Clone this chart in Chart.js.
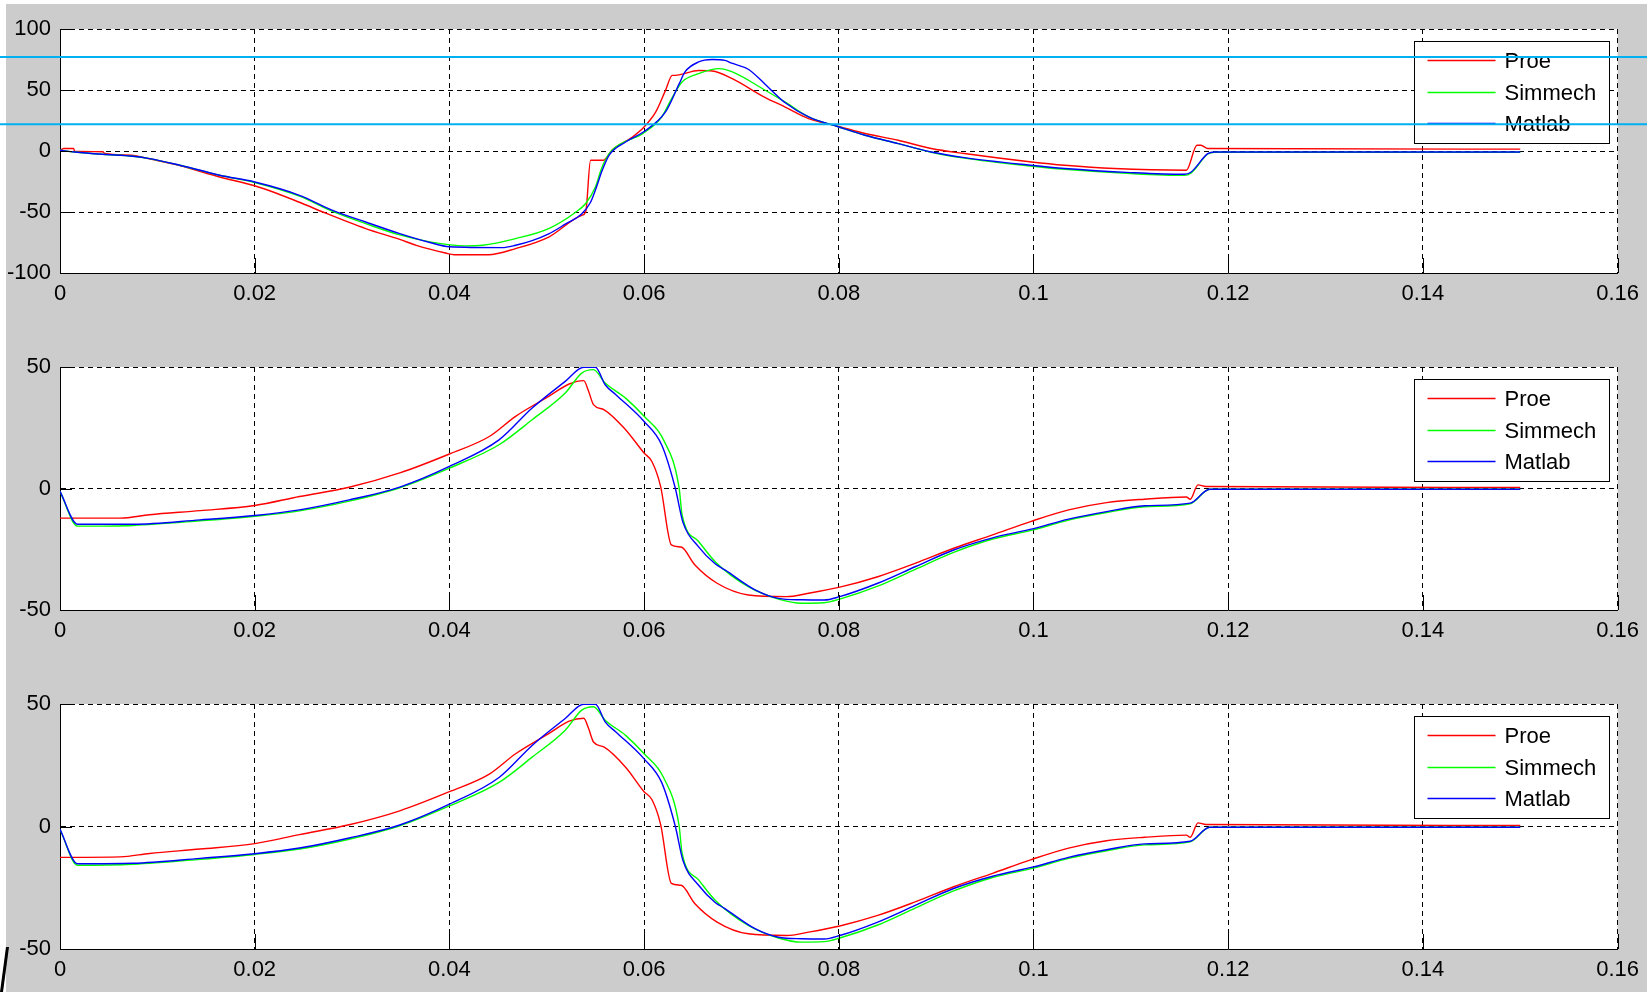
<!DOCTYPE html>
<html>
<head>
<meta charset="utf-8">
<script src="https://cdn.jsdelivr.net/npm/chart.js@4.4.1/dist/chart.umd.min.js"></script>
<style>
html,body{margin:0;padding:0;background:#cccccc;width:1647px;height:992px;overflow:hidden;position:relative}
canvas{position:absolute;left:0}
#wt{position:absolute;left:0;top:0;width:1647px;height:4px;background:#fff}
#wl{position:absolute;left:0;top:0;width:6px;height:992px;background:#fff}
#mk{position:absolute;left:0;top:940px}
</style>
</head>
<body>
<div id="wt"></div><div id="wl"></div>
<svg id="mk" width="12" height="52"><polygon points="6,7 9,7 3,52 0,52" fill="#000"/></svg>
<canvas id="c1" width="1647" height="330" style="top:0px"></canvas>
<canvas id="c2" width="1647" height="330" style="top:330px"></canvas>
<canvas id="c3" width="1647" height="332" style="top:660px"></canvas>
<script>
// ---------- axis ticks ----------
const xTicks = [0, 0.02, 0.04, 0.06, 0.08, 0.1, 0.12, 0.14, 0.16];
const xTickLabels = ['0', '0.02', '0.04', '0.06', '0.08', '0.1', '0.12', '0.14', '0.16'];
const y1Ticks = [-100, -50, 0, 50, 100];
const y1TickLabels = ['-100', '-50', '0', '50', '100'];
const y23Ticks = [-50, 0, 50];
const y23TickLabels = ['-50', '0', '50'];

// ---------- series ----------
const seriesNames = ['Proe', 'Simmech', 'Matlab'];
const seriesColors = ['#ff0000', '#00ff00', '#0000ff'];

// plot 1
const p1ProeT = [0, 0.0004, 0.0014, 0.0015, 0.0044, 0.0046, 0.0073, 0.0092, 0.0123, 0.0164, 0.02, 0.0246, 0.027, 0.0314, 0.0349, 0.0366, 0.0396, 0.0405, 0.044, 0.0468, 0.0502, 0.0536, 0.054, 0.0545, 0.0558, 0.0567, 0.0588, 0.06, 0.0612, 0.0622, 0.0629, 0.0632, 0.0656, 0.067, 0.069, 0.0724, 0.0745, 0.0769, 0.08, 0.0827, 0.0861, 0.0895, 0.0929, 0.0998, 0.1032, 0.1083, 0.1157, 0.1168, 0.1172, 0.1179, 0.15];
const p1ProeV = [0.6, 2, 2, -0.2, -0.6, -2.1, -3.5, -6.4, -12, -21.3, -28.5, -42, -50, -63.6, -72.5, -77.3, -83.6, -85, -85, -80, -70.5, -52.7, -50, -7.6, -7.6, 0.6, 11.5, 19.7, 32, 49.7, 62, 62, 66, 65.6, 59.5, 44, 36, 26.6, 20.2, 14.3, 8.8, 2, -2.1, -9, -11.7, -14.4, -15.8, 4.7, 4.7, 2, 1.5];
const p1SimT = [0, 0.0015, 0.0044, 0.0075, 0.0092, 0.0123, 0.0164, 0.02, 0.0246, 0.028, 0.0314, 0.0349, 0.038, 0.0416, 0.0434, 0.0468, 0.0502, 0.053, 0.054, 0.055, 0.0556, 0.056, 0.0567, 0.06, 0.0618, 0.0629, 0.0639, 0.0656, 0.0677, 0.069, 0.0724, 0.0745, 0.0769, 0.08, 0.0827, 0.0861, 0.0895, 0.0929, 0.0997, 0.1032, 0.11, 0.1155, 0.1162, 0.1179, 0.1186, 0.15];
const p1SimV = [0.6, -0.8, -2.7, -4.3, -6.2, -11.7, -19.9, -25.8, -37, -49.5, -59.5, -68.8, -74.5, -77.8, -77.3, -71.8, -63.6, -50, -43, -29.5, -15, -7.6, 0.6, 15, 27.9, 44, 56.6, 63.4, 67.5, 65, 50, 40, 27.9, 19.7, 12.9, 6.1, -1, -5.8, -12.3, -15, -18.5, -20, -18, -2.5, -1, -1];
const p1MatT = [0, 0.0015, 0.0044, 0.0075, 0.0092, 0.0123, 0.0144, 0.0164, 0.02, 0.0246, 0.028, 0.0314, 0.0349, 0.038, 0.04, 0.0454, 0.0468, 0.0485, 0.0502, 0.0519, 0.0536, 0.0545, 0.055, 0.0557, 0.0564, 0.0581, 0.06, 0.0622, 0.0636, 0.0642, 0.0656, 0.067, 0.0683, 0.069, 0.0707, 0.0724, 0.0745, 0.0769, 0.08, 0.0827, 0.0861, 0.0895, 0.0929, 0.0997, 0.1032, 0.11, 0.1155, 0.1162, 0.1179, 0.1186, 0.15];
const p1MatV = [0.6, -0.8, -2.7, -4.3, -6.2, -11.7, -15.8, -19.9, -25.4, -36.3, -48.6, -58.2, -67.7, -75, -78.5, -79.2, -77.3, -73.5, -68, -60, -51.5, -42, -32, -15.8, -3.5, 7.4, 16, 32, 55, 64.8, 73, 75, 74.3, 72, 67, 55, 39.5, 27.9, 19.7, 12.9, 6.1, -0.8, -5.4, -11.7, -14.4, -17.7, -19.1, -17.2, -2.2, -0.8, -0.8];

// plot 2
const p2ProeT = [0, 0.0062, 0.0092, 0.0144, 0.02, 0.0246, 0.0297, 0.0349, 0.04, 0.0441, 0.0468, 0.0502, 0.0523, 0.0538, 0.0543, 0.0548, 0.0559, 0.0581, 0.06, 0.0608, 0.0617, 0.0628, 0.0638, 0.0652, 0.0675, 0.0707, 0.0746, 0.0769, 0.0801, 0.084, 0.0879, 0.0918, 0.0958, 0.0997, 0.1036, 0.1075, 0.1114, 0.1157, 0.1161, 0.1169, 0.1177, 0.15];
const p2ProeV = [-12.2, -12.2, -10.8, -9.1, -7, -3.3, 0.5, 6.4, 14.2, 21.4, 29.7, 37.9, 43, 44.4, 40, 34.5, 32.4, 24.2, 14.6, 11.1, 0.8, -23.2, -24.1, -31.4, -39, -43.8, -44.5, -43.1, -40.6, -36.3, -30.7, -24.6, -19.1, -13.6, -8.8, -5.8, -4.4, -3.5, -4.4, 1.5, 0.8, 0.4];
const p2SimT = [0, 0.0018, 0.0075, 0.0144, 0.02, 0.0246, 0.0297, 0.0349, 0.04, 0.0451, 0.0485, 0.0519, 0.0536, 0.0548, 0.056, 0.0581, 0.06, 0.062, 0.0636, 0.0639, 0.0656, 0.0673, 0.0707, 0.0738, 0.0762, 0.0785, 0.0801, 0.084, 0.0879, 0.0918, 0.0958, 0.1, 0.1036, 0.1075, 0.1114, 0.1161, 0.1181, 0.15];
const p2SimV = [-1.2, -15.5, -15.2, -13.3, -11.4, -9.2, -5.2, 0.3, 8.4, 18, 28.3, 39.3, 47.5, 48.9, 43.4, 37.2, 29.7, 20, 0.2, -10.8, -21.8, -30.1, -40.4, -45.5, -47.2, -47, -45.5, -40.2, -33.2, -26.3, -20.8, -17, -13, -9.9, -7.5, -6.3, -0.3, -0.3];
const p2MatT = [0, 0.0018, 0.0075, 0.0144, 0.02, 0.0246, 0.0297, 0.0349, 0.04, 0.0451, 0.0485, 0.0519, 0.0538, 0.055, 0.056, 0.0571, 0.06, 0.0618, 0.0632, 0.064, 0.0656, 0.0673, 0.0683, 0.0714, 0.0738, 0.0762, 0.0785, 0.0801, 0.084, 0.0879, 0.0918, 0.0958, 0.1, 0.1036, 0.1075, 0.1114, 0.1161, 0.1181, 0.15];
const p2MatV = [-1.2, -14.7, -14.7, -12.9, -11.1, -8.8, -4.7, 0.6, 9.1, 20, 33.1, 44.1, 49.9, 49.9, 42.7, 38.6, 27.6, 18, 0.2, -14, -24, -31, -33.5, -41.7, -45.2, -45.8, -45.9, -44.5, -39, -32.1, -25.3, -20.3, -16.5, -12.6, -9.5, -7.1, -6, -0.3, -0.3];

// plot 3
const p3ProeT = [0, 0.0062, 0.0092, 0.0144, 0.02, 0.0246, 0.0297, 0.0349, 0.04, 0.0441, 0.0468, 0.0502, 0.0523, 0.0538, 0.0543, 0.0548, 0.0559, 0.0581, 0.06, 0.0608, 0.0617, 0.0628, 0.0638, 0.0652, 0.0675, 0.0707, 0.0746, 0.0769, 0.0801, 0.084, 0.0879, 0.0918, 0.0958, 0.0997, 0.1036, 0.1075, 0.1114, 0.1157, 0.1161, 0.1169, 0.1177, 0.15];
const p3ProeV = [-12.6, -12.4, -11, -9.2, -7, -3.3, 0.7, 6.4, 14.2, 21.4, 29.7, 37.9, 43, 44.2, 40, 34.5, 32.4, 24.2, 14.2, 11, 0.8, -23.2, -24, -31.4, -39, -43.8, -44.5, -43.1, -40.6, -36.3, -30.7, -24.6, -19.1, -13.6, -8.8, -5.8, -4.4, -3.5, -4.4, 1.5, 0.8, 0.4];
const p3SimT = [0, 0.0018, 0.0075, 0.0144, 0.02, 0.0246, 0.0297, 0.0349, 0.04, 0.0451, 0.0485, 0.0519, 0.0536, 0.0548, 0.056, 0.0581, 0.06, 0.062, 0.0636, 0.0639, 0.0656, 0.0673, 0.0707, 0.0738, 0.0762, 0.0785, 0.0801, 0.084, 0.0879, 0.0918, 0.0958, 0.1, 0.1036, 0.1075, 0.1114, 0.1161, 0.1181, 0.15];
const p3SimV = [-1.2, -15.8, -15.4, -13.4, -11.4, -9.2, -5.2, 0.3, 8.4, 18, 28.3, 39.3, 47.5, 48.9, 43.4, 37.2, 29.7, 20, 0.2, -10.8, -21.8, -30.1, -40.4, -45.5, -47.2, -47, -45.5, -40.2, -33.2, -26.3, -20.8, -17, -13, -9.9, -7.5, -6.3, -0.3, -0.3];
const p3MatT = [0, 0.0018, 0.0075, 0.0144, 0.02, 0.0246, 0.0297, 0.0349, 0.04, 0.0451, 0.0485, 0.0519, 0.0538, 0.055, 0.056, 0.0571, 0.06, 0.0618, 0.0632, 0.064, 0.0656, 0.0673, 0.0683, 0.0714, 0.0738, 0.0762, 0.0785, 0.0801, 0.084, 0.0879, 0.0918, 0.0958, 0.1, 0.1036, 0.1075, 0.1114, 0.1161, 0.1181, 0.15];
const p3MatV = [-1.2, -15.2, -15, -13, -11.1, -8.8, -4.7, 0.6, 9.1, 20, 33.1, 44.1, 49.9, 49.9, 42.7, 38.6, 27.6, 18, 0.2, -14, -24, -31, -33.5, -41.7, -45.2, -45.8, -45.9, -44.5, -39, -32.1, -25.3, -20.3, -16.5, -12.6, -9.5, -7.1, -6, -0.3, -0.3];

// light-blue horizontal marker lines across the top panel (values on its y axis)
const refLineValues = [77, 22];

const FONT = "'Liberation Sans', Arial, sans-serif";

// ---------- plugins ----------
const whiteArea = {
  id: 'whiteArea',
  beforeDraw(chart) {
    const a = chart.chartArea, ctx = chart.ctx;
    ctx.save(); ctx.fillStyle = '#ffffff';
    ctx.fillRect(a.left, a.top, a.right - a.left, a.bottom - a.top);
    ctx.restore();
  }
};
const inwardTicks = {
  id: 'inwardTicks',
  afterDatasetsDraw(chart) {
    const {ctx, chartArea: a, scales: {x, y}} = chart;
    ctx.save(); ctx.strokeStyle = '#000'; ctx.lineWidth = 1; ctx.beginPath();
    x.ticks.forEach(t => { const px = Math.round(x.getPixelForValue(t.value)) + 0.5; ctx.moveTo(px, a.bottom); ctx.lineTo(px, a.bottom - 15); });
    y.ticks.forEach(t => { const py = Math.round(y.getPixelForValue(t.value)) + 0.5; ctx.moveTo(a.left, py); ctx.lineTo(a.left + 12, py); });
    ctx.stroke(); ctx.restore();
  }
};
const boxLegend = {
  id: 'boxLegend',
  afterDraw(chart) {
    const a = chart.chartArea, ctx = chart.ctx;
    const bw = 195, bh = 102;
    const bx = Math.round(a.right - 204) + 0.5, by = Math.round(a.top + 12) + 0.5;
    const rows = [18.5, 50.5, 81.5];
    ctx.save();
    ctx.fillStyle = '#fff'; ctx.fillRect(bx, by, bw, bh);
    ctx.strokeStyle = '#000'; ctx.lineWidth = 1; ctx.strokeRect(bx, by, bw, bh);
    ctx.font = '22px ' + FONT; ctx.textBaseline = 'middle'; ctx.textAlign = 'left';
    seriesNames.forEach((n, i) => {
      const yy = Math.round(by + rows[i]) + 0.5;
      ctx.strokeStyle = seriesColors[i]; ctx.lineWidth = 1.4;
      ctx.beginPath(); ctx.moveTo(bx + 13, yy); ctx.lineTo(bx + 81, yy); ctx.stroke();
      ctx.fillStyle = '#000'; ctx.fillText(n, bx + 90, yy + 1);
    });
    ctx.restore();
  }
};
const refLines = {
  id: 'refLines',
  afterDraw(chart) {
    const y = chart.scales.y, ctx = chart.ctx;
    ctx.save(); ctx.strokeStyle = '#00b0f0'; ctx.lineWidth = 2;
    refLineValues.forEach(v => {
      const py = y.getPixelForValue(v);
      ctx.beginPath(); ctx.moveTo(0, py); ctx.lineTo(chart.width, py); ctx.stroke();
    });
    ctx.restore();
  }
};

function buildChart(id, padTop, axisH, yMin, yMax, yTicks, yLabels, series, extra) {
  const datasets = series.map((s, i) => ({
    label: seriesNames[i],
    data: s[0].map((t, j) => ({x: t, y: s[1][j]})),
    borderColor: seriesColors[i],
    borderWidth: 1.4,
    pointRadius: 0,
    cubicInterpolationMode: 'monotone',
    fill: false,
    order: 2 - i
  }));
  return new Chart(document.getElementById(id), {
    type: 'line',
    data: {datasets},
    options: {
      responsive: false, animation: false, devicePixelRatio: 1, events: [],
      layout: {padding: {top: padTop, right: 26, left: 0, bottom: 0}},
      plugins: {legend: {display: false}, tooltip: {enabled: false}},
      scales: {
        x: {
          type: 'linear', min: 0, max: 0.16,
          afterBuildTicks: s => { s.ticks = xTicks.map(v => ({value: v})); },
          afterFit: s => { s.height = axisH; },
          ticks: {callback: (v, i) => xTickLabels[i], font: {family: FONT, size: 22}, color: '#000', padding: 8, maxRotation: 0, minRotation: 0, autoSkip: false},
          grid: {color: '#000', lineWidth: 1, drawTicks: false},
          border: {display: true, color: '#000', width: 1, dash: [5, 4]}
        },
        y: {
          type: 'linear', min: yMin, max: yMax,
          afterBuildTicks: s => { s.ticks = yTicks.map(v => ({value: v})); },
          afterFit: s => { s.width = 60; },
          ticks: {callback: (v, i) => yLabels[i], font: {family: FONT, size: 22}, color: '#000', padding: 9, autoSkip: false},
          grid: {color: '#000', lineWidth: 1, drawTicks: false},
          border: {display: true, color: '#000', width: 1, dash: [5, 4]}
        }
      }
    },
    plugins: [whiteArea, inwardTicks, boxLegend].concat(extra)
  });
}

buildChart('c1', 29, 57, -100, 100, y1Ticks, y1TickLabels,
  [[p1ProeT, p1ProeV], [p1SimT, p1SimV], [p1MatT, p1MatV]], [refLines]);
buildChart('c2', 37, 50, -50, 50, y23Ticks, y23TickLabels,
  [[p2ProeT, p2ProeV], [p2SimT, p2SimV], [p2MatT, p2MatV]], []);
buildChart('c3', 44, 43, -50, 50, y23Ticks, y23TickLabels,
  [[p3ProeT, p3ProeV], [p3SimT, p3SimV], [p3MatT, p3MatV]], []);
</script>
</body>
</html>
